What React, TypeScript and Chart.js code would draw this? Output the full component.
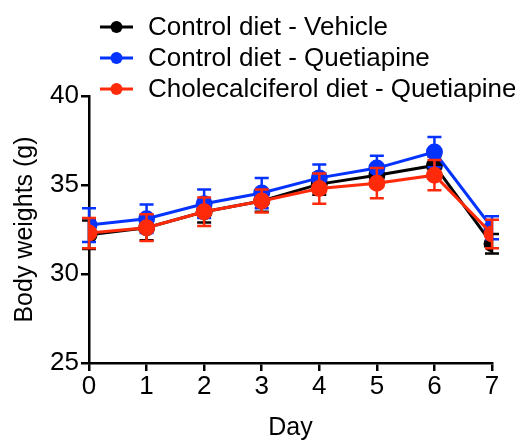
import React, { useEffect, useRef } from "react";
import { Chart, registerables } from "chart.js";

Chart.register(...registerables);

const days = [0, 1, 2, 3, 4, 5, 6, 7];
const seriesNames = [
  "Control diet - Vehicle",
  "Control diet - Quetiapine",
  "Cholecalciferol diet - Quetiapine",
];
const seriesColors = ["#000000", "#0433FF", "#FF2A0A"];
const vehicleMean = [32.2, 32.6, 33.5, 34.1, 35.05, 35.55, 36.1, 31.7];
const vehicleErr = [0.8, 0.7, 0.6, 0.6, 0.6, 0.6, 0.5, 0.55];
const quetMean = [32.75, 33.1, 33.95, 34.55, 35.4, 35.95, 36.85, 32.6];
const quetErr = [0.95, 0.8, 0.8, 0.85, 0.75, 0.7, 0.85, 0.65];
const cholMean = [32.3, 32.6, 33.5, 34.1, 34.8, 35.1, 35.55, 32.25];
const cholErr = [0.85, 0.75, 0.8, 0.65, 0.85, 0.85, 0.85, 0.8];
const yTicks = [25, 30, 35, 40];

const FONT = "Arial, 'Liberation Sans', sans-serif";

export default function App() {
  const ref = useRef<HTMLCanvasElement | null>(null);
  useEffect(() => {
    if (!ref.current) return;
    const means = [vehicleMean, quetMean, cholMean];
    const errs = [vehicleErr, quetErr, cholErr];

    const errorBars = {
      id: "errorBars",
      beforeDatasetDraw(chart: any, args: any) {
        const i = args.index;
        const meta = args.meta;
        const ys = chart.scales.y;
        const ctx = chart.ctx;
        ctx.save();
        ctx.strokeStyle = seriesColors[i];
        ctx.lineWidth = 2.5;
        meta.data.forEach((pt: any, j: number) => {
          const x = pt.x;
          const top = ys.getPixelForValue(means[i][j] + errs[i][j]);
          const bot = ys.getPixelForValue(means[i][j] - errs[i][j]);
          ctx.beginPath();
          ctx.moveTo(x, top);
          ctx.lineTo(x, bot);
          ctx.moveTo(x - 7, top);
          ctx.lineTo(x + 7, top);
          ctx.moveTo(x - 7, bot);
          ctx.lineTo(x + 7, bot);
          ctx.stroke();
        });
        ctx.restore();
      },
    };

    const legendPlugin = {
      id: "customLegend",
      afterDraw(chart: any) {
        const ctx = chart.ctx;
        ctx.save();
        const rowsY = [27, 58, 89];
        seriesNames.forEach((name, i) => {
          const y = rowsY[i];
          ctx.strokeStyle = seriesColors[i];
          ctx.fillStyle = seriesColors[i];
          ctx.lineWidth = 3;
          ctx.beginPath();
          ctx.moveTo(100, y);
          ctx.lineTo(133, y);
          ctx.stroke();
          ctx.beginPath();
          ctx.arc(116.5, y, 6, 0, Math.PI * 2);
          ctx.fill();
          ctx.fillStyle = "#000";
          ctx.font = `26px ${FONT}`;
          ctx.textBaseline = "middle";
          ctx.textAlign = "left";
          ctx.fillText(name, 148, y + 1);
        });
        ctx.restore();
      },
    };

    const chart = new Chart(ref.current, {
      type: "line",
      data: {
        labels: days,
        datasets: means.map((m, i) => ({
          label: seriesNames[i],
          data: days.map((d, j) => ({ x: d, y: m[j] })),
          borderColor: seriesColors[i],
          backgroundColor: seriesColors[i],
          pointBackgroundColor: seriesColors[i],
          pointBorderColor: seriesColors[i],
          pointRadius: 7,
          borderWidth: 3,
          tension: 0,
          order: 3 - i,
        })),
      },
      options: {
        animation: false,
        responsive: false,
        maintainAspectRatio: false,
        layout: { padding: { top: 96, right: 23, left: 0, bottom: 0 } },
        plugins: { legend: { display: false }, tooltip: { enabled: false } },
        scales: {
          x: {
            type: "linear",
            min: 0,
            max: 7,
            afterFit: (s: any) => {
              s.height = 78;
            },
            ticks: {
              stepSize: 1,
              color: "#000",
              font: { family: FONT, size: 26 },
              padding: 0,
            },
            grid: {
              display: true,
              drawOnChartArea: false,
              drawTicks: true,
              tickLength: 8,
              color: "#000",
              lineWidth: 2.5,
            },
            border: { display: true, color: "#000", width: 2.5 },
            title: {
              display: true,
              text: "Day",
              color: "#000",
              font: { family: FONT, size: 25, lineHeight: 1 },
              padding: { top: 0, bottom: 0 },
            },
          },
          y: {
            type: "linear",
            min: 25,
            max: 40,
            afterFit: (s: any) => {
              s.width = 89;
            },
            afterBuildTicks: (s: any) => {
              s.ticks = yTicks.map((v) => ({ value: v }));
            },
            ticks: {
              color: "#000",
              font: { family: FONT, size: 26 },
              padding: 2,
            },
            grid: {
              display: true,
              drawOnChartArea: false,
              drawTicks: true,
              tickLength: 8,
              color: "#000",
              lineWidth: 2.5,
            },
            border: { display: true, color: "#000", width: 2.5 },
            title: {
              display: true,
              text: "Body weights (g)",
              color: "#000",
              font: { family: FONT, size: 25 },
              padding: { top: 10, bottom: 0 },
            },
          },
        },
      },
      plugins: [errorBars, legendPlugin],
    } as any);
    return () => chart.destroy();
  }, []);

  return (
    <div style={{ position: "absolute", left: 0, top: 0, width: 515, height: 441, background: "#fff" }}>
      <canvas ref={ref} width={515} height={441} style={{ width: 515, height: 441 }} />
    </div>
  );
}
